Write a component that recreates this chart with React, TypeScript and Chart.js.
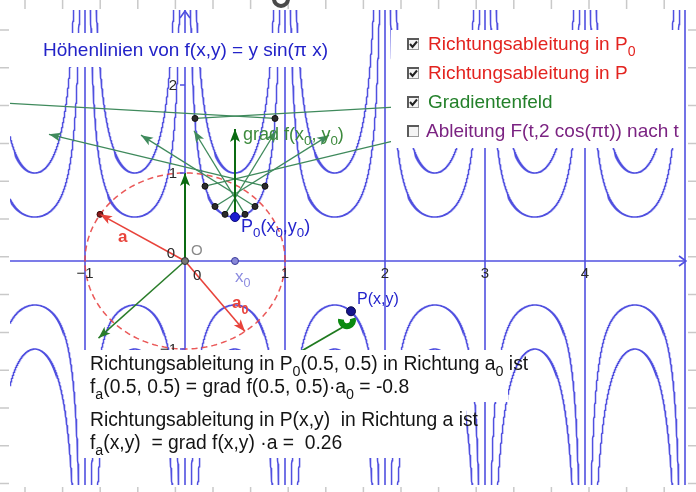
import React, { useEffect, useRef } from "react";
import { Chart, registerables } from "chart.js";

Chart.register(...registerables);

// ---------- data ----------
// f(x,y) = y sin(pi x); contour levels drawn
const CONTOUR_LEVELS = [-1, -0.5, 0.5, 1];
// zero contour: vertical lines at integer x (plus the x axis)
const ZERO_CONTOUR_X = [-2, -1, 0, 1, 2, 3, 4, 5];
const INTERVAL_STARTS = [-2, -1, 0, 1, 2, 3, 4];
const X_TICKS = [-1, 1, 2, 3, 4];
const Y_TICKS = [1, 2, -1, -2];

// gradient field: points on contour f = 0.5 and the gradient vectors there
const FIELD_X = [0.1, 0.2, 0.3, 0.4, 0.6, 0.7, 0.8, 0.9];
const FIELD_Y = [1.62, 0.85, 0.62, 0.53, 0.53, 0.62, 0.85, 1.62];
const FIELD_DX = [4.83, 2.16, 1.14, 0.51, -0.51, -1.14, -2.16, -4.83];
const FIELD_DY = [0.31, 0.59, 0.81, 0.95, 0.95, 0.81, 0.59, 0.31];

const P0 = [0.5, 0.5];
const GRAD_P0 = [0, 1];
const P = [1.66, -0.571];
const GRAD_P = [-0.865, -0.876];
const VEC_A = [-0.85, 0.53];
const VEC_A0 = [0.6, -0.8];
const P_LINE_START = [1.58, -0.75];
const P_LINE_END = [1.0, -1.13];

const TITLE = "Höhenlinien von f(x,y) = y sin(π x)";
const LEGEND_ITEMS = [
  { parts: [["Richtungsableitung in P"], ["0", 1]], color: "#e3231f", checked: true },
  { parts: [["Richtungsableitung in P"]], color: "#e3231f", checked: true },
  { parts: [["Gradientenfeld"]], color: "#23802a", checked: true },
  { parts: [["Ableitung F(t,2 cos(πt)) nach t"]], color: "#7b2382", checked: false },
];
const RESULT_LINES: any[] = [
  [["Richtungsableitung in P"], ["0", 1], ["(0.5, 0.5) in Richtung a"], ["0", 1], [" ist"]],
  [["f"], ["a", 1], ["(0.5, 0.5) = grad f(0.5, 0.5)·a"], ["0", 1], [" = -0.8"]],
  [["Richtungsableitung in P(x,y)  in Richtung a ist"]],
  [["f"], ["a", 1], ["(x,y)  = grad f(x,y) ·a =  0.26"]],
];

// ---------- layout ----------
const W = 696;
const H = 492;
const FONT = '"Liberation Sans", Arial, Helvetica, sans-serif';
const BLUE = "rgb(80,80,224)";
const DARK_GREEN = "#0b6b12";
const FIELD_GREEN = "#3f8a5c";
const RED = "#e8433b";

function contour(k: number, c: number) {
  const pts: { x: number; y: number }[] = [];
  const sgn = Math.abs(k) % 2 === 0 ? 1 : -1;
  const yLim = 3.6;
  const thMin = Math.asin(Math.min(1, Math.abs(c) / yLim));
  const N = 900;
  for (let i = 0; i <= N; i++) {
    const th = thMin + ((Math.PI - 2 * thMin) * i) / N;
    pts.push({ x: k + th / Math.PI, y: c / (sgn * Math.sin(th)) });
  }
  return pts;
}

function lineDs(pts: any[], color: string, width: number, dash: number[] = []) {
  return {
    data: pts,
    showLine: true,
    borderColor: color,
    backgroundColor: color,
    borderWidth: width,
    borderDash: dash,
    pointRadius: 0,
    pointHoverRadius: 0,
    fill: false,
    tension: 0,
  };
}
function pointDs(pts: any[], fill: string, stroke: string, r: number) {
  return {
    data: pts,
    showLine: false,
    pointRadius: r,
    pointBackgroundColor: fill,
    pointBorderColor: stroke,
    pointBorderWidth: 1,
    pointHoverRadius: r,
  };
}
const pt = (a: number[]) => ({ x: a[0], y: a[1] });

function buildDatasets() {
  const ds: any[] = [];
  INTERVAL_STARTS.forEach((k) => CONTOUR_LEVELS.forEach((c) => ds.push(lineDs(contour(k, c), BLUE, 1.5))));
  ZERO_CONTOUR_X.forEach((k) => ds.push(lineDs([{ x: k, y: -4 }, { x: k, y: 4 }], BLUE, 1.6)));
  ds.push(lineDs([{ x: -3, y: 0 }, { x: 5.0, y: 0 }], BLUE, 1.6));
  // dashed unit circle
  const circ: any[] = [];
  for (let i = 0; i <= 240; i++) {
    const t = (2 * Math.PI * i) / 240;
    circ.push({ x: Math.cos(t), y: Math.sin(t) });
  }
  ds.push(lineDs(circ, "rgba(232,70,70,0.9)", 1.5, [6, 4]));
  // gradient field
  FIELD_X.forEach((x, i) =>
    ds.push(lineDs([{ x, y: FIELD_Y[i] }, { x: x + FIELD_DX[i], y: FIELD_Y[i] + FIELD_DY[i] }], FIELD_GREEN, 1.3))
  );
  // gradient arrows
  ds.push(lineDs([{ x: 0, y: 0 }, pt(GRAD_P0)], DARK_GREEN, 2));
  ds.push(lineDs([pt(P0), { x: P0[0] + GRAD_P0[0], y: P0[1] + GRAD_P0[1] }], DARK_GREEN, 2));
  ds.push(lineDs([{ x: 0, y: 0 }, pt(GRAD_P)], "#2a7d2a", 1.5));
  ds.push(lineDs([pt(P_LINE_START), pt(P_LINE_END)], "#1f7a1f", 1.8));
  // direction vectors
  ds.push(lineDs([{ x: 0, y: 0 }, pt(VEC_A)], RED, 1.6));
  ds.push(lineDs([{ x: 0, y: 0 }, pt(VEC_A0)], RED, 1.6));
  // points
  ds.push(pointDs(FIELD_X.map((x, i) => ({ x, y: FIELD_Y[i] })), "#2b2b2b", "#111", 3));
  ds.push(pointDs([pt(VEC_A)], "#8a1a1a", "#3a0a0a", 3));
  ds.push(pointDs([{ x: 0, y: 0 }], "#777", "#333", 3.5));
  ds.push(pointDs([{ x: P0[0], y: 0 }], "#8888d8", "#3c3c9a", 3.5));
  ds.push(pointDs([pt(P0)], "#1c1cd0", "#0c0c80", 4.5));
  ds.push(pointDs([pt(P)], "#14148c", "#08084a", 4.5));
  ds.forEach((d, i) => (d.order = -i));
  return ds;
}

function drawRich(ctx: CanvasRenderingContext2D, parts: any[], x: number, y: number, size: number, color: string, weight = "") {
  let cx = x;
  ctx.fillStyle = color;
  ctx.textBaseline = "alphabetic";
  ctx.textAlign = "left";
  for (const p of parts) {
    const sub = !!p[1];
    const s = sub ? size * 0.74 : size;
    ctx.font = `${weight} ${s}px ${FONT}`;
    ctx.fillText(p[0], cx, sub ? y + size * 0.3 : y);
    cx += ctx.measureText(p[0]).width;
  }
  return cx;
}

function head(ctx: CanvasRenderingContext2D, x1: number, y1: number, x2: number, y2: number, color: string, len = 11, half = 4.5) {
  const a = Math.atan2(y2 - y1, x2 - x1);
  const c = Math.cos(a), s = Math.sin(a);
  ctx.fillStyle = color;
  ctx.beginPath();
  ctx.moveTo(x2, y2);
  ctx.lineTo(x2 - len * c + half * s, y2 - len * s - half * c);
  ctx.lineTo(x2 - len * 0.75 * c, y2 - len * 0.75 * s);
  ctx.lineTo(x2 - len * c - half * s, y2 - len * s + half * c);
  ctx.closePath();
  ctx.fill();
}

function checkbox(ctx: CanvasRenderingContext2D, x: number, y: number, checked: boolean) {
  ctx.fillStyle = "#f4f4f4";
  ctx.fillRect(x, y, 12, 12);
  ctx.strokeStyle = "#9a9a9a";
  ctx.lineWidth = 1;
  ctx.strokeRect(x + 0.5, y + 0.5, 11, 11);
  ctx.strokeStyle = "#5a5a5a";
  ctx.lineWidth = 2;
  ctx.beginPath();
  ctx.moveTo(x + 1, y + 12);
  ctx.lineTo(x + 1, y + 1);
  ctx.lineTo(x + 12, y + 1);
  ctx.stroke();
  if (checked) {
    ctx.strokeStyle = "#222";
    ctx.lineWidth = 2;
    ctx.beginPath();
    ctx.moveTo(x + 3, y + 6);
    ctx.lineTo(x + 5.5, y + 9);
    ctx.lineTo(x + 10, y + 3.5);
    ctx.stroke();
  }
}

const overlay = {
  id: "overlay",
  beforeDraw(chart: any) {
    const ctx: CanvasRenderingContext2D = chart.ctx;
    ctx.save();
    ctx.fillStyle = "#fff";
    ctx.fillRect(0, 0, W, H);
    ctx.strokeStyle = "#c9c9c9";
    ctx.lineWidth = 1.5;
    ctx.beginPath();
    for (let x = 25; x < W; x += 37.6) {
      ctx.moveTo(x, 0); ctx.lineTo(x, 9);
      ctx.moveTo(x, 487); ctx.lineTo(x, 492);
    }
    for (let y = 30; y < H; y += 37.8) {
      ctx.moveTo(0, y); ctx.lineTo(9, y);
      ctx.moveTo(688, y); ctx.lineTo(696, y);
    }
    ctx.stroke();
    ctx.restore();
  },
  afterDatasetsDraw(chart: any) {
    const ctx: CanvasRenderingContext2D = chart.ctx;
    const xs = chart.scales.x, ys = chart.scales.y;
    const px = (x: number) => xs.getPixelForValue(x);
    const py = (y: number) => ys.getPixelForValue(y);
    const area = chart.chartArea;
    ctx.save();
    ctx.beginPath();
    ctx.rect(area.left, area.top, area.right - area.left, area.bottom - area.top);
    ctx.clip();

    // axis arrows
    const ox = px(0), oy = py(0);
    ctx.strokeStyle = BLUE;
    ctx.lineWidth = 1.6;
    ctx.beginPath();
    ctx.moveTo(area.right - 8, oy - 5); ctx.lineTo(area.right - 1, oy); ctx.lineTo(area.right - 8, oy + 5);
    ctx.moveTo(ox - 5, area.top + 8); ctx.lineTo(ox, area.top + 1); ctx.lineTo(ox + 5, area.top + 8);
    ctx.stroke();
    // y tick marks
    ctx.beginPath();
    Y_TICKS.forEach((t) => { ctx.moveTo(ox - 5, py(t)); ctx.lineTo(ox, py(t)); });
    ctx.stroke();

    // arrow heads
    FIELD_X.forEach((x, i) =>
      head(ctx, px(x), py(FIELD_Y[i]), px(x + FIELD_DX[i]), py(FIELD_Y[i] + FIELD_DY[i]), FIELD_GREEN, 12, 4.5)
    );
    head(ctx, ox, oy, px(GRAD_P0[0]), py(GRAD_P0[1]), DARK_GREEN, 13, 5);
    head(ctx, px(P0[0]), py(P0[1]), px(P0[0] + GRAD_P0[0]), py(P0[1] + GRAD_P0[1]), DARK_GREEN, 13, 5);
    head(ctx, ox, oy, px(GRAD_P[0]), py(GRAD_P[1]), "#2a7d2a", 12, 4.5);
    head(ctx, ox, oy, px(VEC_A[0]), py(VEC_A[1]), RED, 12, 4.5);
    head(ctx, ox, oy, px(VEC_A0[0]), py(VEC_A0[1]), RED, 12, 4.5);

    // angle marker at P
    ctx.strokeStyle = "#0a8a10";
    ctx.lineWidth = 6;
    ctx.beginPath();
    ctx.arc(px(P[0]) - 4, py(P[1]) + 9, 6, -0.1 * Math.PI, 1.05 * Math.PI);
    ctx.stroke();

    // tick labels
    ctx.fillStyle = "#2a2a2a";
    ctx.font = `15px ${FONT}`;
    ctx.textAlign = "center";
    ctx.textBaseline = "alphabetic";
    X_TICKS.forEach((t) => ctx.fillText(t < 0 ? "−" + Math.abs(t) : String(t), px(t), oy + 17));
    ctx.textAlign = "right";
    Y_TICKS.forEach((t) => ctx.fillText(t < 0 ? "−" + Math.abs(t) : String(t), ox - 8, py(t) + 5));
    ctx.fillText("0", ox - 10, oy - 3);
    ctx.textAlign = "left";
    ctx.fillText("0", ox + 8, oy + 19);

    // labels
    ctx.fillStyle = "#8a8a8a";
    ctx.font = `15px ${FONT}`;
    ctx.fillText("O", ox + 6, oy - 6);
    drawRich(ctx, [["P"], ["0", 1], ["(x"], ["0", 1], [",y"], ["0", 1], [")"]], px(P0[0]) + 6, py(P0[1]) + 15, 18, "#2424cc");
    drawRich(ctx, [["grad f(x"], ["0", 1], [", y"], ["0", 1], [")"]], px(P0[0]) + 8, py(P0[1] + GRAD_P0[1]) + 11, 18, "#3d8a3d");
    drawRich(ctx, [["P(x,y)"]], px(P[0]) + 6, py(P[1]) - 7, 16, "#2424cc");
    drawRich(ctx, [["x"], ["0", 1]], px(P0[0]), oy + 21, 17, "#8c8ce0");
    drawRich(ctx, [["a"], ["0", 1]], px(VEC_A0[0]) - 13, py(VEC_A0[1]) - 23, 17, RED, "bold");
    drawRich(ctx, [["a"]], px(VEC_A[0]) + 18, py(VEC_A[1]) + 28, 17, RED, "bold");
    ctx.restore();

    // title box
    ctx.save();
    ctx.fillStyle = "#fff";
    ctx.fillRect(30, 33, 306, 34);
    drawRich(ctx, [[TITLE]], 43, 56, 19, "#2323c8");

    // legend box
    ctx.fillStyle = "#fff";
    ctx.fillRect(391, 30, 293, 118);
    LEGEND_ITEMS.forEach((it, i) => {
      const base = 50 + i * 29;
      checkbox(ctx, 407, base - 12, it.checked);
      drawRich(ctx, it.parts, i === 3 ? 426 : 428, base, 19, it.color);
    });

    // result boxes
    ctx.fillStyle = "#fff";
    ctx.fillRect(84, 350, 424, 52);
    ctx.fillRect(84, 402, 382, 56);
    const bases = [370, 393, 426, 449];
    RESULT_LINES.forEach((parts, i) => drawRich(ctx, parts, 90, bases[i], 19.3, "#141414"));

    // top ring icon
    ctx.strokeStyle = "#4a4a4a";
    ctx.lineWidth = 4;
    ctx.beginPath();
    ctx.arc(281, -1, 7, 0, Math.PI);
    ctx.stroke();
    ctx.restore();
  },
};

export default function App() {
  const ref = useRef<HTMLCanvasElement>(null);
  useEffect(() => {
    const chart = new Chart(ref.current as HTMLCanvasElement, {
      type: "scatter",
      data: { datasets: buildDatasets() },
      options: {
        responsive: false,
        animation: false,
        events: [],
        layout: { padding: { left: 10, top: 10, right: 9, bottom: 7 } },
        scales: {
          x: { type: "linear", min: -1.75, max: 5.02, display: false },
          y: { type: "linear", min: -2.545, max: 2.852, display: false },
        },
        plugins: { legend: { display: false }, tooltip: { enabled: false }, title: { display: false } },
      } as any,
      plugins: [overlay],
    });
    return () => chart.destroy();
  }, []);
  return (
    <div style={{ position: "absolute", left: 0, top: 0, width: W, height: H, background: "#fff" }}>
      <canvas ref={ref} width={W} height={H} style={{ width: W, height: H, display: "block" }} />
    </div>
  );
}
